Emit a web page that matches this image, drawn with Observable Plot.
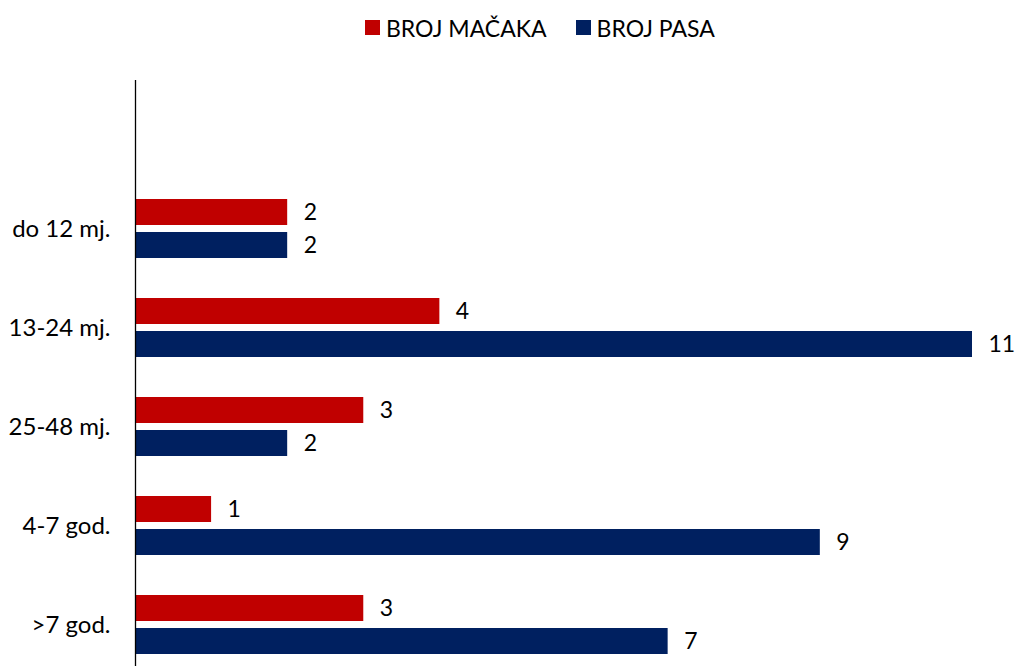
<!DOCTYPE html>
<html>
<head>
<meta charset="utf-8">
<script src="https://cdn.jsdelivr.net/npm/d3@7"></script>
<script src="https://cdn.jsdelivr.net/npm/@observablehq/plot@0.6"></script>
<style>
  html, body { margin: 0; padding: 0; background: #fff; overflow: hidden; width: 1015px; height: 666px; }
  #legend { position: absolute; left: 0; top: 0; width: 1015px; height: 55px; }
  #chart { position: absolute; left: 0; top: 80px; width: 1015px; height: 586px; overflow: hidden; }
  div.lg-swatches.lg-swatches-wrap { font-family: Lato, "Open Sans", sans-serif; font-size: 23px; color: #000; margin: 0; height: 55px; min-height: 55px; padding-left: 365px; justify-content: flex-start; align-items: center; }
  div.lg-swatches .lg-swatch { margin-right: 29px; }
  div.lg-swatches .lg-swatch > svg { margin-right: 6px; }
</style>
</head>
<body>
<div id="legend"></div>
<div id="chart"></div>
<script>
const categories = ["do 12 mj.", "13-24 mj.", "25-48 mj.", "4-7 god.", ">7 god."];
const series = ["BROJ MAČAKA", "BROJ PASA"];
const cats = [2, 4, 3, 1, 3];
const dogs = [2, 11, 2, 9, 7];
const colors = ["#C00000", "#002060"];

const catData = categories.map((c, i) => ({category: c, series: series[0], value: cats[i]}));
const dogData = categories.map((c, i) => ({category: c, series: series[1], value: dogs[i]}));
const maxV = d3.max([...cats, ...dogs]);

const legend = Plot.legend({
  color: {domain: series, range: colors},
  legend: "swatches",
  swatchSize: 15,
  className: "lg"
});
document.getElementById("legend").append(legend);

const chart = Plot.plot({
  width: 1015,
  height: 594,
  marginTop: 0,
  marginBottom: 0,
  marginLeft: 135,
  marginRight: 43,
  style: {fontFamily: "Lato, 'Open Sans', sans-serif", fontSize: "24px", color: "#000", background: "#fff"},
  x: {domain: [0, maxV], axis: null},
  y: {domain: ["", ...categories], padding: 0, axis: null},
  color: {domain: series, range: colors},
  marks: [
    Plot.barX(catData, {x: "value", y: "category", fill: "series", insetTop: 20, insetBottom: 53}),
    Plot.barX(dogData, {x: "value", y: "category", fill: "series", insetTop: 53, insetBottom: 20}),
    Plot.text(catData, {x: "value", y: "category", text: d => String(d.value), dx: 16, dy: -16.5, textAnchor: "start", fill: "#000", fontSize: 23}),
    Plot.text(dogData, {x: "value", y: "category", text: d => String(d.value), dx: 16, dy: 16.5, textAnchor: "start", fill: "#000", fontSize: 23}),
    Plot.axisY({tickSize: 0, tickPadding: 25, fontSize: 24, fill: "#000", label: null}),
    Plot.ruleX([0], {stroke: "#000", strokeWidth: 1.3})
  ]
});
document.getElementById("chart").append(chart);
</script>
</body>
</html>
